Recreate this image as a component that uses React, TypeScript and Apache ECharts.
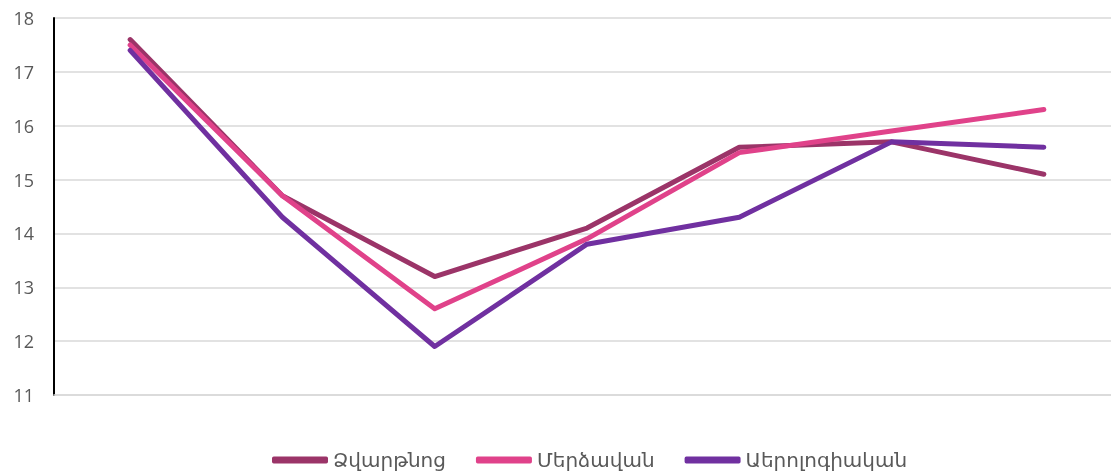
import React, { useEffect, useRef } from "react";
import * as echarts from "echarts";

const categories = ["1", "2", "3", "4", "5", "6", "7"];
const seriesNames = ["Ձվարթնոց", "Մերձավան", "Աերոլոգիական"];
const zvartnots = [17.6, 14.7, 13.2, 14.1, 15.6, 15.7, 15.1];
const merdzavan = [17.5, 14.7, 12.6, 13.9, 15.5, 15.9, 16.3];
const aerological = [17.4, 14.3, 11.9, 13.8, 14.3, 15.7, 15.6];
const colors = ["#9B3468", "#E0428A", "#7030A0"];

export default function App() {
  const ref = useRef<HTMLDivElement>(null);
  useEffect(() => {
    if (!ref.current) return;
    const chart = echarts.init(ref.current, undefined, { renderer: "svg" });
    const data = [zvartnots, merdzavan, aerological];
    chart.setOption({
      animation: false,
      color: colors,
      grid: { left: 54, right: 10, top: 18, bottom: 80, containLabel: false },
      legend: {
        top: 445,
        left: 267,
        icon: "roundRect",
        itemWidth: 56,
        itemHeight: 7,
        itemGap: 30,
        textStyle: { fontFamily: "DejaVu Sans", fontSize: 20, color: "#595959" },
        data: seriesNames,
      },
      xAxis: {
        type: "category",
        data: categories,
        boundaryGap: true,
        axisLine: { show: true, lineStyle: { color: "#D9D9D9", width: 1.5 } },
        axisTick: { show: false },
        axisLabel: { show: false },
      },
      yAxis: {
        type: "value",
        min: 11,
        max: 18,
        interval: 1,
        axisLine: { show: true, lineStyle: { color: "#000000", width: 2 } },
        axisTick: { show: false },
        axisLabel: {
          margin: 20,
          fontFamily: "Open Sans",
          fontSize: 18,
          color: "#595959",
        },
        splitLine: { lineStyle: { color: "#D9D9D9", width: 1.5 } },
      },
      series: seriesNames.map((name, i) => ({
        name,
        type: "line",
        data: data[i],
        symbol: "none",
        lineStyle: { width: 5, cap: "round", join: "round", color: colors[i] },
        itemStyle: { color: colors[i] },
      })),
    });
    return () => chart.dispose();
  }, []);
  return (
    <div
      ref={ref}
      style={{ position: "fixed", left: 0, top: 0, width: 1130, height: 475 }}
    />
  );
}
